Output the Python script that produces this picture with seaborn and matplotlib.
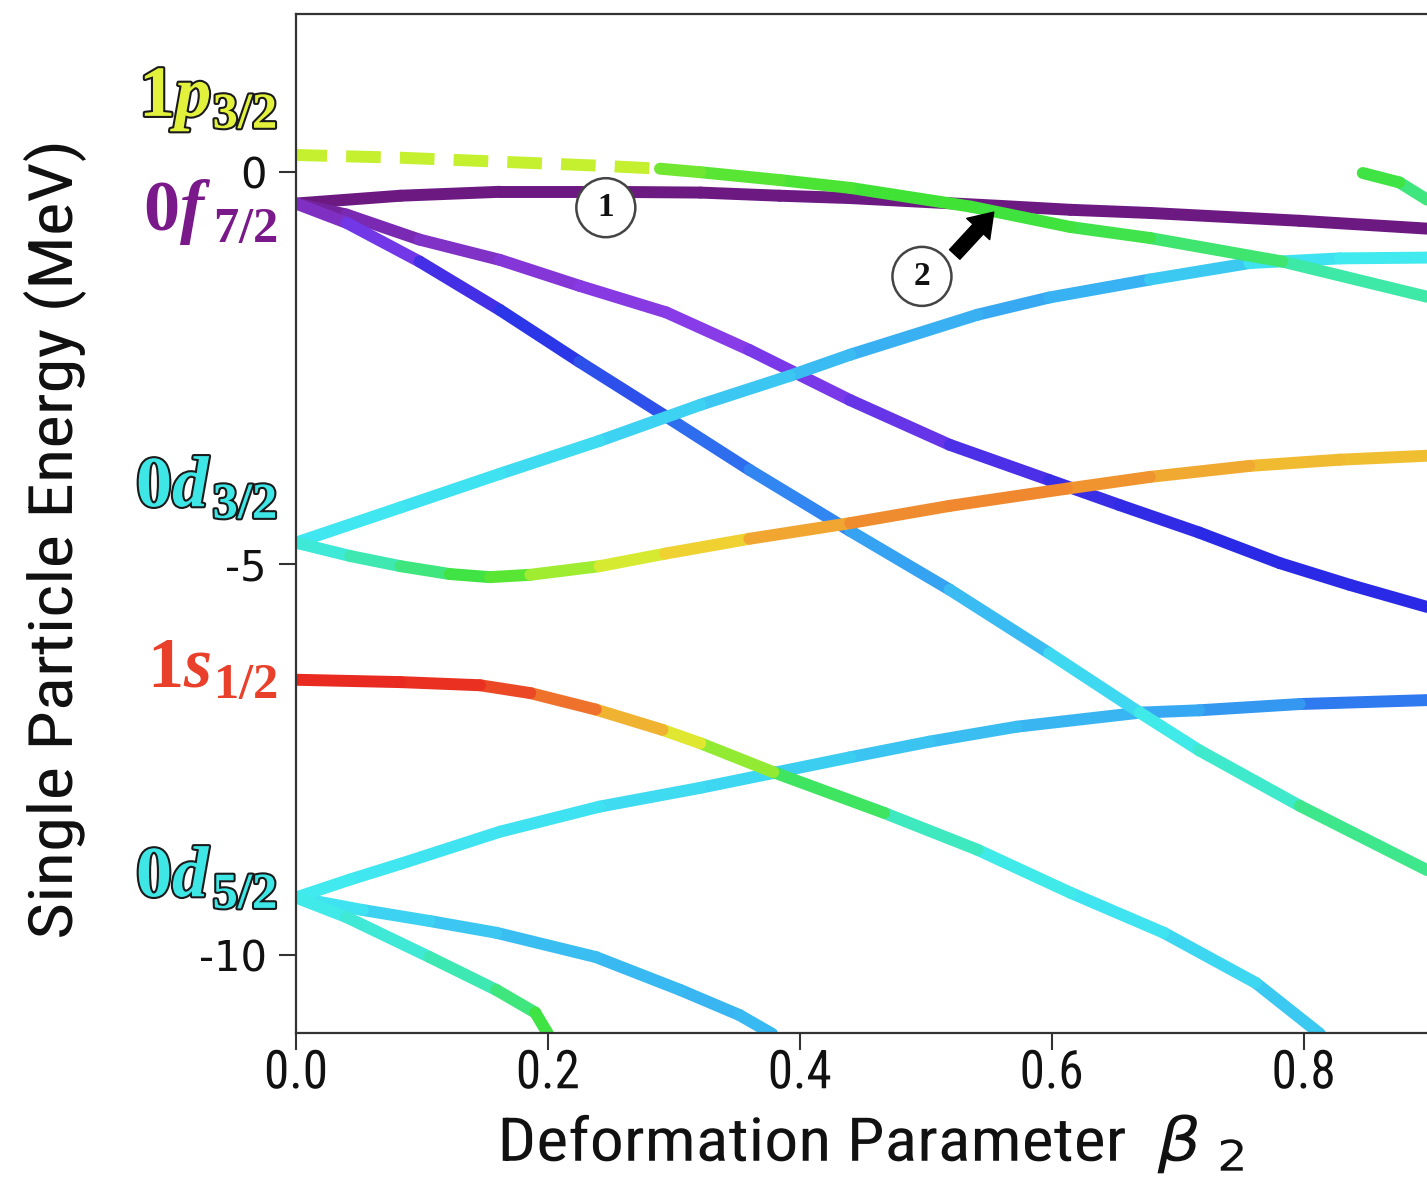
import numpy as np
import pandas as pd
import matplotlib
matplotlib.use("Agg")
import matplotlib.pyplot as plt
import matplotlib.patheffects as pe
import matplotlib.transforms as mtransforms
from matplotlib.colors import LinearSegmentedColormap
from matplotlib import font_manager as fm
import seaborn as sns

# ---------------- data ----------------
# 1p3/2 level (dashed part, then solid)
beta_p32_dash = [0.0, 0.083, 0.162, 0.241, 0.289]
E_p32_dash = [0.22, 0.185, 0.134, 0.083, 0.045]
beta_p32 = [0.289, 0.321, 0.384, 0.44, 0.536, 0.615, 0.678, 0.783, 0.898]
E_p32 = [0.045, 0.0, -0.10, -0.20, -0.44, -0.70, -0.84, -1.14, -1.59]
hue_p32 = [0.70, 0.68, 0.67, 0.66, 0.66, 0.65, 0.64, 0.61, 0.57]

# short level entering at top right
beta_top = [0.847, 0.876, 0.898]
E_top = [-0.01, -0.13, -0.35]
hue_top = [0.66, 0.64, 0.60]

# 0f7/2 branches
beta_f72a = [0.0, 0.083, 0.162, 0.241, 0.321, 0.384, 0.44, 0.559, 0.615, 0.678, 0.797, 0.898]
E_f72a = [-0.40, -0.30, -0.25, -0.25, -0.26, -0.30, -0.33, -0.43, -0.48, -0.52, -0.62, -0.72]
hue_f72a = [0.0] * 12

beta_f72b = [0.0, 0.040, 0.098, 0.162, 0.225, 0.294, 0.360, 0.440, 0.519, 0.598, 0.654, 0.717, 0.781, 0.837, 0.898]
E_f72b = [-0.40, -0.54, -0.86, -1.12, -1.45, -1.79, -2.27, -2.91, -3.48, -3.93, -4.25, -4.60, -4.99, -5.27, -5.55]
hue_f72b = [0.02, 0.04, 0.06, 0.08, 0.09, 0.10, 0.11, 0.13, 0.15, 0.18, 0.19, 0.20, 0.20, 0.20, 0.20]

beta_f72c = [0.0, 0.040, 0.098, 0.162, 0.225, 0.294, 0.360, 0.440, 0.519, 0.598, 0.670, 0.717, 0.797, 0.898]
E_f72c = [-0.40, -0.645, -1.14, -1.76, -2.42, -3.12, -3.80, -4.58, -5.33, -6.14, -6.90, -7.38, -8.09, -8.91]
hue_f72c = [0.03, 0.10, 0.15, 0.20, 0.23, 0.27, 0.31, 0.35, 0.40, 0.44, 0.50, 0.52, 0.57, 0.65]

# 0d3/2 branches
beta_d32a = [0.0, 0.083, 0.162, 0.241, 0.321, 0.392, 0.44, 0.541, 0.598, 0.678, 0.757, 0.829, 0.898]
E_d32a = [-4.73, -4.28, -3.85, -3.43, -2.97, -2.60, -2.33, -1.82, -1.60, -1.37, -1.16, -1.10, -1.09]
hue_d32a = [0.50, 0.49, 0.48, 0.47, 0.45, 0.43, 0.41, 0.39, 0.39, 0.42, 0.47, 0.50, 0.50]

beta_d32b = [0.0, 0.043, 0.083, 0.122, 0.154, 0.186, 0.241, 0.293, 0.36, 0.44, 0.519, 0.612, 0.678, 0.757, 0.829, 0.898]
E_d32b = [-4.73, -4.90, -5.03, -5.13, -5.17, -5.14, -5.03, -4.87, -4.68, -4.48, -4.26, -4.04, -3.89, -3.75, -3.67, -3.62]
hue_d32b = [0.50, 0.56, 0.60, 0.64, 0.66, 0.69, 0.74, 0.79, 0.84, 0.87, 0.88, 0.88, 0.86, 0.84, 0.83, 0.83]

# 1s1/2
beta_s12 = [0.0, 0.083, 0.146, 0.186, 0.238, 0.291, 0.321, 0.379, 0.467, 0.541, 0.615, 0.689, 0.762, 0.813]
E_s12 = [-6.48, -6.51, -6.55, -6.65, -6.86, -7.12, -7.29, -7.66, -8.18, -8.65, -9.20, -9.71, -10.35, -11.0]
hue_s12 = [1.0, 1.0, 0.98, 0.94, 0.88, 0.80, 0.75, 0.67, 0.60, 0.52, 0.50, 0.48, 0.45, 0.44]

# 0d5/2 branches
beta_d52a = [0.0, 0.043, 0.083, 0.162, 0.241, 0.321, 0.379, 0.44, 0.503, 0.572, 0.670, 0.717, 0.797, 0.898]
E_d52a = [-9.26, -9.03, -8.83, -8.42, -8.10, -7.86, -7.67, -7.47, -7.27, -7.08, -6.90, -6.87, -6.79, -6.74]
hue_d52a = [0.50, 0.50, 0.49, 0.49, 0.48, 0.47, 0.46, 0.44, 0.43, 0.42, 0.40, 0.38, 0.34, 0.28]

beta_d52b = [0.0, 0.040, 0.106, 0.159, 0.190, 0.200]
E_d52b = [-9.26, -9.51, -10.02, -10.44, -10.73, -11.0]
hue_d52b = [0.50, 0.52, 0.55, 0.60, 0.64, 0.66]

beta_d52c = [0.0, 0.053, 0.106, 0.159, 0.238, 0.305, 0.352, 0.378]
E_d52c = [-9.26, -9.42, -9.56, -9.71, -10.02, -10.44, -10.76, -11.0]
hue_d52c = [0.50, 0.47, 0.45, 0.43, 0.42, 0.41, 0.41, 0.42]

# spherical level labels: (main part, subscript)
level_main = [r"$\mathit{1p}$", r"$0f$", r"$0d$", r"$1s$", r"$0d$"]
level_sub = [r"$\mathit{3/2}$", r"$7/2$", r"$\mathit{3/2}$", r"$1/2$", r"$\mathit{5/2}$"]
level_E = [0.71, -0.74, -4.27, -6.57, -9.25]
level_colors = ["#e2f23c", "#7a1a8a", "#3ee6e6", "#e8402a", "#3ee6e6"]
level_outline = [True, False, True, False, True]

x_ticks = [0.0, 0.2, 0.4, 0.6, 0.8]
x_ticklabels = ["0.0", "0.2", "0.4", "0.6", "0.8"]
y_ticks = [-10, -5, 0]
y_ticklabels = ["-10", "-5", "0"]

marker_labels = ["1", "2"]
marker_beta = [0.246, 0.497]
marker_E = [-0.453, -1.33]
arrow_from = (0.523, -1.05)
arrow_to = (0.554, -0.51)

# ---------------- fonts ----------------
sns.set_style("ticks")
entries = fm.fontManager.ttflist
names = {f.name for f in entries}
family, stretch = "DejaVu Sans", "normal"
for n in ["Liberation Sans Narrow", "Roboto Condensed", "Open Sans Condensed",
          "Noto Sans Condensed", "DejaVu Sans Condensed", "Arial Narrow"]:
    if n in names:
        family = n
        break
else:
    cond = [f for f in entries
            if str(f.stretch) in ("condensed", "semi-condensed", "extra-condensed")
            and f.style == "normal"
            and f.name in ("DejaVu Sans", "Roboto", "Open Sans", "Noto Sans", "Lato", "Inter")]
    if cond:
        family, stretch = cond[0].name, str(cond[0].stretch)

plt.rcParams.update({
    "font.family": ["DejaVu Sans"],
    "axes.unicode_minus": False,
    "mathtext.fontset": "custom",
    "mathtext.rm": "Liberation Serif:bold",
    "mathtext.it": "Liberation Serif:italic:bold",
    "mathtext.bf": "Liberation Serif:bold",
    "axes.edgecolor": "#333333",
    "axes.linewidth": 1.6,
})


class Squeeze(pe.AbstractPathEffect):
    """Scale text glyphs about a fixed display point (narrow-font look)."""

    def __init__(self, sx, sy, cx, cy):
        super().__init__()
        self.sx, self.sy, self.cx, self.cy = sx, sy, cx, cy

    def draw_path(self, renderer, gc, tpath, affine, rgbFace=None):
        t = (mtransforms.Affine2D().translate(-self.cx, -self.cy)
             .scale(self.sx, self.sy).translate(self.cx, self.cy))
        renderer.draw_path(gc, tpath, affine + t, rgbFace)


def clamp(v):
    return max(0.6, min(1.3, v))


cmap = LinearSegmentedColormap.from_list("levels", [
    (0.00, "#6c1a82"),
    (0.10, "#8a3ce8"),
    (0.20, "#2a2ae6"),
    (0.30, "#2f74f0"),
    (0.40, "#38b0f2"),
    (0.50, "#40eaf0"),
    (0.60, "#3ee8a0"),
    (0.66, "#40e234"),
    (0.74, "#c4f030"),
    (0.80, "#f0e232"),
    (0.88, "#f08a30"),
    (1.00, "#e82a20"),
])

fig = plt.figure(figsize=(14.27, 11.78), dpi=100)
ax = fig.add_axes([296 / 1427, 1 - 1033 / 1178, 1 - 296 / 1427, (1033 - 14) / 1178])

curves = [
    (beta_p32, E_p32, hue_p32),
    (beta_top, E_top, hue_top),
    (beta_f72c, E_f72c, hue_f72c),
    (beta_f72b, E_f72b, hue_f72b),
    (beta_d32a, E_d32a, hue_d32a),
    (beta_d32b, E_d32b, hue_d32b),
    (beta_s12, E_s12, hue_s12),
    (beta_d52a, E_d52a, hue_d52a),
    (beta_d52b, E_d52b, hue_d52b),
    (beta_d52c, E_d52c, hue_d52c),
    (beta_f72a, E_f72a, hue_f72a),
]
rows = []
seg = 0
for b, e, h in curves:
    for i in range(len(b) - 1):
        c = 0.5 * (h[i] + h[i + 1])
        rows.append(dict(beta=b[i], E=e[i], c=c, seg=seg))
        rows.append(dict(beta=b[i + 1], E=e[i + 1], c=c, seg=seg))
        seg += 1
df = pd.DataFrame(rows)

LW = 8.6
sns.lineplot(x=beta_p32_dash, y=E_p32_dash, color=cmap(0.74), lw=LW,
             linestyle=(0.3, (2.9, 1.6)), dash_capstyle="butt", ax=ax)
sns.lineplot(data=df, x="beta", y="E", hue="c", units="seg", estimator=None,
             sort=False, palette=cmap, hue_norm=(0, 1), legend=False,
             lw=LW, solid_capstyle="round", ax=ax)

# circled markers and arrow
for lab, b, e in zip(marker_labels, marker_beta, marker_E):
    ax.text(b, e, lab, ha="center", va="center", fontsize=24,
            fontfamily="Liberation Serif", fontweight="bold", color="#111111",
            bbox=dict(boxstyle="circle,pad=0.42", fc="white", ec="#444444", lw=1.8),
            zorder=6)
ax.annotate("", xy=arrow_to, xytext=arrow_from,
            arrowprops=dict(arrowstyle="simple,head_length=0.55,head_width=0.75,tail_width=0.34",
                            fc="black", ec="black", mutation_scale=30,
                            shrinkA=0, shrinkB=0), zorder=6)

# axes
ax.set_xlim(0, 0.898)
ax.set_ylim(-10.99, 2.02)
ax.set_xticks(x_ticks)
ax.set_xticklabels(x_ticklabels)
ax.set_yticks(y_ticks)
ax.set_yticklabels(y_ticklabels)
ax.spines["right"].set_visible(False)
ax.tick_params(axis="both", direction="out", length=12, width=1.5, color="#333333")
ax.tick_params(axis="x", pad=-1, labelsize=38.5, labelcolor="#111111")
ax.tick_params(axis="y", pad=9, labelsize=30, labelcolor="#111111")
for t in ax.get_xticklabels():
    t.set_fontfamily(family)
    t.set_fontstretch(stretch)

ax.set_ylabel("Single Particle Energy (MeV)", fontsize=44, color="#111111",
              fontfamily=family, fontstretch=stretch)
ax.set_xlabel(r"Deformation Parameter  $\beta$ $_2$", fontsize=43.5, color="#111111",
              fontfamily=family, fontstretch=stretch, math_fontfamily="dejavusans")
ax.yaxis.set_label_coords((86 - 296) / 1131, 0.484)
ax.xaxis.set_label_coords((871 - 296) / 1131, -(1113 - 1033) / 1019)

# level labels: main symbol and subscript as two texts, right-aligned at the axis
trans = mtransforms.blended_transform_factory(ax.transAxes, ax.transData)
X_RIGHT = (277 - 296) / 1131
MAIN_FS = 52.0
SUB_FS = MAIN_FS * 0.7
SUB_DROP = 0.16 * MAIN_FS / 72.0  # inches
mains, subs = [], []
for m, sb, e, col, outl in zip(level_main, level_sub, level_E, level_colors, level_outline):
    st = ax.text(X_RIGHT, e, sb, ha="right", va="baseline", fontsize=SUB_FS, color=col,
                 clip_on=False, math_fontfamily="custom",
                 transform=trans + mtransforms.ScaledTranslation(0, -SUB_DROP, fig.dpi_scale_trans))
    mt = ax.text(X_RIGHT, e, m, ha="right", va="baseline", fontsize=MAIN_FS, color=col,
                 clip_on=False, math_fontfamily="custom", transform=trans)
    if outl:
        for t in (st, mt):
            t.set_path_effects([pe.withStroke(linewidth=3, foreground="#1a1a1a")])
    mains.append(mt)
    subs.append(st)

fig.canvas.draw()
r = fig.canvas.get_renderer()
for mt, st, e in zip(mains, subs, level_E):
    w = st.get_window_extent(r).width + 1.5
    mt.set_transform(trans + mtransforms.ScaledTranslation(-w / fig.dpi, 0, fig.dpi_scale_trans))

# ---- fit axis-text extents to the reference pixel extents ----
fig.canvas.draw()
yl = ax.yaxis.label
bb = yl.get_window_extent(r)
f = clamp(800 / bb.height)
yl.set_path_effects([Squeeze(1.0, f, (bb.x0 + bb.x1) / 2, (bb.y0 + bb.y1) / 2)])

xl = ax.xaxis.label
bb = xl.get_window_extent(r)
f = clamp(747 / bb.width)
xl.set_path_effects([Squeeze(f, 1.0, (bb.x0 + bb.x1) / 2, (bb.y0 + bb.y1) / 2)])

for t in ax.get_xticklabels():
    bb = t.get_window_extent(r)
    f = clamp(64 / bb.width)
    t.set_path_effects([Squeeze(f, 1.0, (bb.x0 + bb.x1) / 2, (bb.y0 + bb.y1) / 2)])

fig.savefig("out.png", dpi=100)
